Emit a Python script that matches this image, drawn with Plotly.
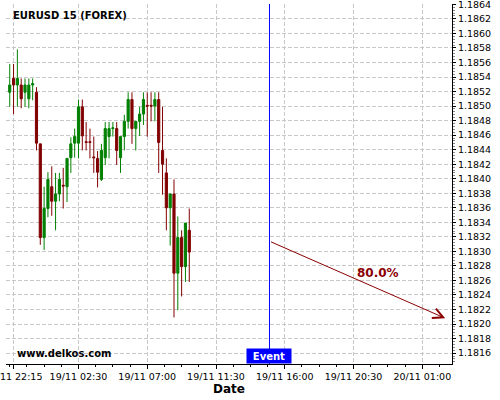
import pandas as pd
import plotly.graph_objects as go

# ---- data (15-minute candles, 18/11 22:00 -> 19/11 09:45) ----
start_time = "2020-11-18 22:00"
opens = [1.18519, 1.18538, 1.18529, 1.18529, 1.18519, 1.18510, 1.18529, 1.18519,
         1.18448, 1.18319, 1.18359, 1.18389, 1.18369, 1.18379, 1.18391, 1.18389,
         1.18429, 1.18449, 1.18449, 1.18499, 1.18451, 1.18451, 1.18430, 1.18428,
         1.18399, 1.18429, 1.18458, 1.18469, 1.18469, 1.18429, 1.18458, 1.18479,
         1.18509, 1.18469, 1.18479, 1.18489, 1.18501, 1.18501, 1.18500, 1.18509,
         1.18439, 1.18408, 1.18360, 1.18379, 1.18270, 1.18319, 1.18279, 1.18329]
highs = [1.18558, 1.18558, 1.18578, 1.18538, 1.18538, 1.18538, 1.18538, 1.18526,
         1.18448, 1.18389, 1.18409, 1.18417, 1.18408, 1.18408, 1.18415, 1.18428,
         1.18457, 1.18469, 1.18509, 1.18509, 1.18478, 1.18469, 1.18458, 1.18438,
         1.18448, 1.18478, 1.18478, 1.18478, 1.18478, 1.18458, 1.18488, 1.18519,
         1.18519, 1.18479, 1.18499, 1.18519, 1.18519, 1.18519, 1.18519, 1.18519,
         1.18499, 1.18428, 1.18379, 1.18399, 1.18348, 1.18329, 1.18339, 1.18359]
lows = [1.18499, 1.18489, 1.18499, 1.18497, 1.18499, 1.18497, 1.18508, 1.18439,
        1.18309, 1.18302, 1.18347, 1.18349, 1.18329, 1.18369, 1.18359, 1.18368,
        1.18408, 1.18429, 1.18428, 1.18439, 1.18439, 1.18428, 1.18408, 1.18388,
        1.18397, 1.18419, 1.18428, 1.18458, 1.18419, 1.18408, 1.18439, 1.18469,
        1.18448, 1.18439, 1.18459, 1.18474, 1.18458, 1.18479, 1.18479, 1.18408,
        1.18378, 1.18329, 1.18308, 1.18209, 1.18219, 1.18238, 1.18258, 1.18258]
closes = [1.18529, 1.18529, 1.18538, 1.18510, 1.18529, 1.18529, 1.18531, 1.18449,
          1.18319, 1.18359, 1.18399, 1.18369, 1.18379, 1.18399, 1.18390, 1.18428,
          1.18448, 1.18458, 1.18499, 1.18459, 1.18450, 1.18450, 1.18429, 1.18409,
          1.18439, 1.18469, 1.18469, 1.18470, 1.18439, 1.18458, 1.18479, 1.18509,
          1.18469, 1.18479, 1.18489, 1.18509, 1.18500, 1.18500, 1.18509, 1.18450,
          1.18420, 1.18360, 1.18379, 1.18270, 1.18319, 1.18279, 1.18339, 1.18299]

tick_times = ["2020-11-18 22:15", "2020-11-19 02:30", "2020-11-19 07:00",
              "2020-11-19 11:30", "2020-11-19 16:00", "2020-11-19 20:30",
              "2020-11-20 01:00"]
tick_labels = ["18/11 22:15", "19/11 02:30", "19/11 07:00", "19/11 11:30",
               "19/11 16:00", "19/11 20:30", "20/11 01:00"]

event_time = "2020-11-19 15:00"
arrow_start = ("2020-11-19 15:00", 1.18314)
arrow_end = ("2020-11-20 02:30", 1.18208)
prob_label = "80.0%"
prob_pos = ("2020-11-19 22:06", 1.18270)

times = pd.date_range(start=start_time, periods=len(opens), freq="15min")

GREEN = "#008000"
RED = "#800000"
FONT = "DejaVu Sans"

fig = go.Figure()
fig.add_trace(go.Candlestick(
    x=times, open=opens, high=highs, low=lows, close=closes,
    increasing=dict(line=dict(color=GREEN, width=1), fillcolor=GREEN),
    decreasing=dict(line=dict(color=RED, width=1), fillcolor=RED),
    whiskerwidth=0, showlegend=False, hoverinfo="skip",
))

# event line
fig.add_shape(type="line", xref="x", yref="paper", x0=event_time, x1=event_time,
              y0=0, y1=1, line=dict(color="#0000ff", width=1))

# arrow
fig.add_annotation(x=arrow_end[0], y=arrow_end[1], ax=arrow_start[0], ay=arrow_start[1],
                   xref="x", yref="y", axref="x", ayref="y", text="",
                   showarrow=True, arrowhead=5, arrowsize=2, arrowwidth=1,
                   arrowcolor="#8b0000", standoff=0, startstandoff=0)
fig.add_annotation(x=prob_pos[0], y=prob_pos[1], xref="x", yref="y", text=prob_label,
                   showarrow=False, font=dict(family=FONT, size=12, color="#8b0000", weight="bold"))

# Event box
fig.add_annotation(x=event_time, y=0, xref="x", yref="paper", xanchor="center", yanchor="bottom",
                   text="Event", showarrow=False, bgcolor="#0000ff", width=42, height=12,
                   borderpad=1, font=dict(family=FONT, size=10, color="white", weight="bold"))

# title and watermark
fig.add_annotation(x=0.0105, y=0.969, xref="paper", yref="paper", xanchor="left", yanchor="middle",
                   text="EURUSD 15 (FOREX)", showarrow=False,
                   font=dict(family=FONT, size=10, color="black", weight="bold"))
fig.add_annotation(x=0.0202, y=0.028, xref="paper", yref="paper", xanchor="left", yanchor="middle",
                   text="www.delkos.com", showarrow=False,
                   font=dict(family=FONT, size=10, color="black", weight="bold"))

fig.update_layout(
    width=500, height=400,
    margin=dict(l=6, r=48, t=4, b=36, autoexpand=False),
    paper_bgcolor="white", plot_bgcolor="white",
    font=dict(family=FONT, size=9.5, color="black"),
    showlegend=False,
    boxgap=0.25, boxgroupgap=0.25,
)
fig.update_xaxes(
    type="date", range=["2020-11-18 21:45:20", "2020-11-20 02:56:40"],
    rangeslider=dict(visible=False),
    tickmode="array", tickvals=tick_times, ticktext=tick_labels,
    ticks="outside", ticklen=4, tickcolor="black",
    showline=True, linecolor="black", linewidth=1, mirror=False,
    showgrid=True, gridcolor="#c8c8c8", griddash="4px,2px", gridwidth=1,
    zeroline=False, ticklabeloverflow="allow", automargin=False,
    minor=dict(ticks="outside", ticklen=2, tickcolor="black",
               tick0="2020-11-19 02:30", dtick=4050000, showgrid=False),
    title=dict(text="Date", font=dict(family=FONT, size=12, color="black", weight="bold"), standoff=2),
)
fig.update_yaxes(
    side="right", range=[1.18145, 1.186405],
    tickmode="linear", tick0=1.1816, dtick=0.0002, tickformat=".4f",
    ticks="outside", ticklen=3, tickcolor="black",
    showline=True, linecolor="black", linewidth=1,
    showgrid=True, gridcolor="#c8c8c8", griddash="4px,2px", gridwidth=1,
    zeroline=False, automargin=False, ticklabeloverflow="allow",
    minor=dict(ticks="outside", ticklen=2, tickcolor="#888888", dtick=0.00004, showgrid=False),
)

fig.write_html("out.html", config={"displayModeBar": False},
               post_script="document.body.style.margin='0';")
